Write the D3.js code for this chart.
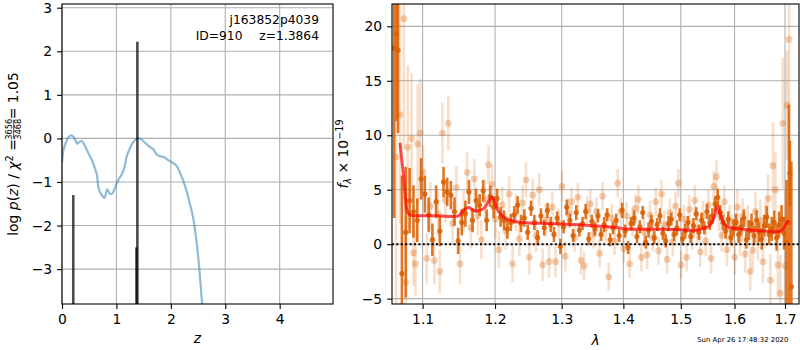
<!DOCTYPE html>
<html>
<head>
<meta charset="utf-8">
<script src="https://cdn.jsdelivr.net/npm/d3@7"></script>
<style>
body { margin: 0; background: #fff; }
svg { font-family: "DejaVu Sans", sans-serif; }
</style>
</head>
<body>
<svg width="800" height="350"></svg>
<script>
// ---- left panel: redshift PDF ----
var zGrid = [0.00,0.03,0.07,0.12,0.165,0.20,0.25,0.28,0.32,0.36,0.40,0.47,0.55,0.64,0.67,0.72,0.78,0.83,0.87,0.91,
  0.96,1.00,1.05,1.10,1.15,1.19,1.25,1.31,1.38,1.43,1.50,1.56,1.62,1.68,1.73,1.80,1.88,1.95,2.02,2.10,
  2.17,2.23,2.29,2.35,2.41,2.46,2.51,2.55,2.58];
var logPz = [-0.55,-0.25,-0.10,0.03,0.07,0.05,-0.05,-0.12,-0.08,-0.06,-0.12,-0.30,-0.50,-0.83,-1.13,-1.28,-1.36,-1.17,-1.25,-1.28,
  -1.18,-1.05,-0.92,-0.82,-0.65,-0.41,-0.22,-0.08,0.00,0.00,-0.07,-0.14,-0.20,-0.25,-0.35,-0.41,-0.43,-0.50,-0.55,-0.62,
  -0.79,-0.98,-1.21,-1.50,-1.82,-2.25,-2.81,-3.40,-3.90];
var spikeZ = [0.207, 1.368, 1.385];
var spikeTop = [-1.30, -2.5, 2.22];
var zTicks = [0, 1, 2, 3, 4];
var pTicks = [-3, -2, -1, 0, 1, 2, 3];

// ---- right panel: spectrum ----
var darkWave = [1.063,1.066,1.068,1.073,1.078,1.083,1.088,1.093,1.098,1.103,
  1.108,1.113,1.118,1.123,1.128,1.133,1.138,1.143,1.148,1.153,
  1.158,1.163,1.168,1.173,1.178,1.183,1.188,1.193,1.198,1.203,
  1.208,1.213,1.218,1.223,1.228,1.233,1.238,1.243,1.248,1.253,
  1.258,1.263,1.268,1.273,1.278,1.283,1.288,1.293,1.298,1.303,
  1.308,1.313,1.318,1.323,1.328,1.333,1.338,1.343,1.348,1.353,
  1.358,1.363,1.368,1.373,1.378,1.383,1.388,1.393,1.398,1.403,
  1.408,1.413,1.418,1.423,1.428,1.433,1.438,1.443,1.448,1.453,
  1.458,1.463,1.468,1.473,1.478,1.483,1.488,1.493,1.498,1.503,
  1.508,1.513,1.518,1.523,1.528,1.533,1.538,1.543,1.548,1.553,
  1.558,1.563,1.568,1.573,1.578,1.583,1.588,1.593,1.598,1.603,
  1.608,1.613,1.618,1.623,1.628,1.633,1.638,1.643,1.648,1.653,
  1.658,1.663,1.668,1.673,1.678,1.683,1.688,1.693,1.698,1.703,
  1.708,1.710,1.713];
var darkFlux = [18.0,19.3,17.8,-2.7,1.1,4.0,3.0,2.2,6.0,4.6,
  2.7,0.4,3.9,1.2,5.7,4.8,4.5,3.0,0.3,2.0,
  2.8,4.8,2.2,4.0,3.6,4.9,2.2,4.4,3.4,4.2,
  2.5,2.2,1.4,2.0,2.7,3.6,1.9,2.4,1.1,3.3,
  2.0,0.6,2.6,1.5,3.1,1.8,0.9,2.4,-0.2,1.6,
  3.4,2.2,0.8,2.9,1.3,1.9,3.0,0.5,2.1,1.4,
  2.6,0.9,1.8,2.7,0.4,1.5,2.2,0.8,3.1,1.2,
  -0.3,1.9,2.4,0.7,1.6,2.9,0.2,1.3,2.1,0.6,
  1.8,2.6,1.0,0.3,1.9,2.3,0.9,1.5,2.7,0.5,
  1.2,2.0,0.7,1.7,2.8,1.1,2.2,1.5,3.0,2.0,
  2.6,3.7,4.3,2.9,2.0,1.2,2.3,0.6,1.5,2.0,
  0.9,1.6,2.4,0.4,1.3,1.9,0.8,2.2,1.1,0.5,
  1.7,2.5,0.9,1.4,2.0,0.6,1.8,2.3,1.0,0.2,
  2.0,6.5,-3.9];
var darkErr = [15.6,8.0,7.6,9.0,6.0,3.0,2.4,2.0,1.9,1.7,
  1.6,1.5,1.5,1.4,1.4,1.3,1.3,1.3,1.2,1.2,
  1.2,1.1,1.1,1.1,1.0,1.0,1.0,1.0,1.0,0.9,
  0.9,0.9,0.9,0.8,0.8,0.8,0.8,0.8,0.7,0.7,
  0.7,0.7,0.7,0.7,0.7,0.7,0.7,0.6,0.7,0.6,
  0.7,0.6,0.6,0.7,0.6,0.6,0.7,0.6,0.6,0.6,
  0.6,0.6,0.7,0.6,0.6,0.6,0.6,0.6,0.7,0.6,
  0.6,0.6,0.7,0.6,0.6,0.6,0.6,0.7,0.6,0.6,
  0.6,0.7,0.6,0.6,0.7,0.6,0.6,0.7,0.6,0.6,
  0.7,0.6,0.6,0.7,0.6,0.7,0.7,0.6,0.7,0.7,
  0.7,0.7,0.8,0.7,0.7,0.7,0.7,0.7,0.8,0.8,
  0.8,0.8,0.8,0.8,0.9,0.9,0.9,0.9,0.9,1.0,
  1.0,1.0,1.0,1.1,1.1,1.2,1.2,1.3,1.5,5.7,
  10.8,3.0,11.5];

var lightWave = [1.0655,1.0705,1.0755,1.0780,1.0805,1.0855,1.0880,1.0905,1.0935,1.0970,
  1.1005,1.1055,1.1105,1.1155,1.1205,1.1230,1.1265,1.1305,1.1345,1.1405,
  1.1455,1.1505,1.1555,1.1605,1.1655,1.1705,1.1755,1.1805,1.1855,1.1905,
  1.1955,1.2005,1.2055,1.2105,1.2155,1.2205,1.2255,1.2305,1.2355,1.2405,
  1.2455,1.2505,1.2555,1.2605,1.2655,1.2705,1.2755,1.2805,1.2855,1.2905,
  1.2955,1.3005,1.3055,1.3105,1.3155,1.3205,1.3255,1.3305,1.3355,1.3405,
  1.3455,1.3505,1.3555,1.3605,1.3655,1.3705,1.3755,1.3805,1.3855,1.3905,
  1.3955,1.4005,1.4055,1.4105,1.4155,1.4205,1.4255,1.4305,1.4355,1.4405,
  1.4455,1.4505,1.4555,1.4605,1.4655,1.4705,1.4755,1.4805,1.4855,1.4905,
  1.4955,1.5005,1.5055,1.5105,1.5155,1.5205,1.5255,1.5305,1.5355,1.5405,
  1.5455,1.5505,1.5555,1.5605,1.5655,1.5705,1.5755,1.5805,1.5855,1.5905,
  1.5955,1.6005,1.6055,1.6105,1.6155,1.6205,1.6255,1.6305,1.6355,1.6405,
  1.6455,1.6505,1.6555,1.6605,1.6655,1.6705,1.6755,1.6805,1.6855,1.6905,
  1.6955,1.7005,1.7043,1.7083];
var lightFlux = [8.0,11.9,20.7,-3.5,8.9,9.7,-0.8,-1.8,9.2,10.2,
  6.6,-1.3,3.5,-1.5,2.8,-2.5,10.2,4.0,11.1,1.9,
  5.2,-1.8,3.0,6.6,1.5,6.0,2.6,0.4,4.1,7.3,
  5.5,2.3,-0.5,3.6,1.2,4.6,-1.8,2.9,0.5,3.8,
  5.9,-1.2,4.5,0.8,5.0,-1.9,2.2,-1.6,3.4,-1.6,
  1.9,5.3,-1.1,2.8,3.9,0.6,4.3,-1.5,-2.0,3.1,
  3.7,0.9,3.0,-0.85,4.4,1.5,-3.0,2.4,0.3,5.6,
  3.0,-0.4,2.6,-1.8,2.0,3.3,4.1,-1.2,1.1,-1.0,
  2.7,0.6,3.9,-0.6,4.6,1.8,-1.4,2.9,0.2,3.5,
  5.6,-1.9,2.3,-1.2,3.2,0.9,4.0,1.4,-0.7,2.6,
  0.3,3.6,-1.3,5.3,6.2,2.7,0.8,3.9,-0.5,2.1,
  1.2,-1.2,3.4,0.5,2.6,-0.9,1.9,-2.5,-0.55,3.0,
  0.4,2.2,-1.6,1.8,4.2,-3.3,7.2,5.0,-1.9,-4.5,
  11.1,-2.0,12.75,18.8];
var lightErr = [14,10,12,6,7.5,6,3.0,3.0,5.5,5.0,
  2.5,2.3,2.2,2.2,2.1,2.0,2.8,2.0,2.5,2.0,
  2.0,1.9,1.9,1.9,1.9,1.8,1.8,1.8,1.8,1.8,
  1.8,1.8,1.7,1.7,1.7,1.7,1.7,1.7,1.6,1.6,
  1.6,1.6,1.5,1.5,1.5,1.5,1.5,1.5,1.4,1.4,
  1.4,1.4,1.4,1.4,1.3,1.3,1.3,1.3,1.3,1.3,
  1.3,1.3,1.3,1.3,1.3,1.3,1.3,1.3,1.3,1.3,
  1.3,1.3,1.3,1.3,1.3,1.3,1.3,1.3,1.3,1.3,
  1.3,1.3,1.3,1.3,1.3,1.3,1.3,1.3,1.3,1.3,
  1.3,1.3,1.3,1.3,1.3,1.4,1.4,1.4,1.4,1.4,
  1.4,1.4,1.4,1.4,1.5,1.5,1.5,1.5,1.5,1.5,
  1.5,1.6,1.6,1.6,1.6,1.7,1.7,1.8,1.8,1.8,
  1.9,1.9,2.0,2.1,2.2,2.4,4.0,3.5,3.0,3.5,
  6.0,7.0,5.0,10.0];

var modelWave = [1.0706,1.0730,1.0752,1.0775,1.0796,1.0820,1.0839,1.10,1.12,1.1486,
  1.1530,1.1570,1.1600,1.1624,1.1650,1.1694,1.1750,1.1800,1.1850,1.1900,
  1.1940,1.1960,1.1985,1.2028,1.2070,1.2123,1.2200,1.2320,1.2500,1.2771,
  1.3000,1.3561,1.3946,1.4000,1.4690,1.5000,1.5169,1.5300,1.5413,1.5537,
  1.5600,1.5640,1.5662,1.5690,1.5720,1.5756,1.5800,1.5850,1.5950,1.6042,
  1.6301,1.6600,1.6897,1.6965,1.7020,1.7070];
var modelFlux = [9.3,7.6,6.3,4.2,3.1,2.8,2.66,2.62,2.6,2.6,
  2.9,3.2,3.33,3.37,3.3,3.1,3.05,3.15,3.35,3.85,
  4.25,4.3,4.0,3.27,2.85,2.5,2.25,2.05,1.95,1.9,
  1.85,1.68,1.5,1.42,1.37,1.32,1.28,1.3,1.45,1.74,
  2.3,3.0,3.42,3.35,2.85,2.36,1.9,1.59,1.47,1.44,
  1.3,1.2,1.19,1.44,1.85,2.2];
var lamTicks = [1.1, 1.2, 1.3, 1.4, 1.5, 1.6, 1.7];
var fluxTicks = [-5, 0, 5, 10, 15, 20];

var svg = d3.select("svg");
var FS = 13.9;
var ORANGE = "#d95f02";

var xz = d3.scaleLinear().domain([0, 4.98]).range([62, 333]);
var yp = d3.scaleLinear().domain([-3.8, 3.085]).range([304, 4]);
var xl = d3.scaleLog().domain([1.0603, 1.7288]).range([392, 799]);
var yf = d3.scaleLinear().domain([-5.49, 22.05]).range([304, 4]);

var defs = svg.append("defs");
function clip(id, x, y) {
  defs.append("clipPath").attr("id", id).append("rect")
    .attr("x", x.range()[0]).attr("y", y.range()[1])
    .attr("width", x.range()[1] - x.range()[0])
    .attr("height", y.range()[0] - y.range()[1]);
}
clip("clipL", xz, yp);
clip("clipR", xl, yf);

function grid(x, y, xt, yt) {
  var g = svg.append("g");
  g.selectAll(".gx").data(xt).enter().append("line")
    .attr("x1", x).attr("x2", x)
    .attr("y1", y.range()[0]).attr("y2", y.range()[1])
    .attr("stroke", "#b0b0b0").attr("stroke-width", 1.1);
  g.selectAll(".gy").data(yt).enter().append("line")
    .attr("y1", y).attr("y2", y)
    .attr("x1", x.range()[0]).attr("x2", x.range()[1])
    .attr("stroke", "#b0b0b0").attr("stroke-width", 1.1);
}

function axes(x, y, xt, yt, xf, yf2) {
  var gx = svg.append("g").attr("transform", "translate(0," + y.range()[0] + ")")
    .call(d3.axisBottom(x).tickValues(xt).tickFormat(xf).tickSize(4.9).tickPadding(4.9).tickSizeOuter(0));
  var gy = svg.append("g").attr("transform", "translate(" + x.range()[0] + ",0)")
    .call(d3.axisLeft(y).tickValues(yt).tickFormat(yf2).tickSize(4.9).tickPadding(4.9).tickSizeOuter(0));
  [gx, gy].forEach(function(g) {
    g.select(".domain").remove();
    g.selectAll("line").attr("stroke", "#000").attr("stroke-width", 1.1);
    g.selectAll("text").attr("font-size", FS + "px").attr("font-family", "DejaVu Sans").attr("fill", "#000");
  });
  svg.append("rect")
    .attr("x", x.range()[0]).attr("y", y.range()[1])
    .attr("width", x.range()[1] - x.range()[0])
    .attr("height", y.range()[0] - y.range()[1])
    .attr("fill", "none").attr("stroke", "#000").attr("stroke-width", 1.1);
}

// ---------- left panel ----------
grid(xz, yp, zTicks, pTicks);
var pl = svg.append("g").attr("clip-path", "url(#clipL)");

pl.append("path")
  .datum(d3.zip(zGrid, logPz))
  .attr("d", d3.line().x(function(d) { return xz(d[0]); }).y(function(d) { return yp(d[1]); }).curve(d3.curveCatmullRom))
  .attr("fill", "none").attr("stroke", "#1f77b4").attr("stroke-opacity", 0.5).attr("stroke-width", 2.2);

pl.selectAll(".spike").data(d3.zip(spikeZ, spikeTop)).enter().append("line")
  .attr("x1", function(d) { return xz(d[0]); }).attr("x2", function(d) { return xz(d[0]); })
  .attr("y1", yp(-3.8)).attr("y2", function(d) { return yp(d[1]); })
  .attr("stroke", "#000").attr("stroke-opacity", 0.7).attr("stroke-width", 2.6);

axes(xz, yp, zTicks, pTicks, d3.format("d"), d3.format("d"));

svg.append("text").attr("x", 319).attr("y", 24).attr("text-anchor", "end")
  .attr("font-size", "12.3px").text("j163852p4039");
svg.append("text").attr("x", 242.5).attr("y", 39.5).attr("text-anchor", "end")
  .attr("font-size", "12.3px").text("ID=910");
svg.append("text").attr("x", 319).attr("y", 39.5).attr("text-anchor", "end")
  .attr("font-size", "12.3px").text("z=1.3864");

svg.append("text").attr("x", 197.5).attr("y", 343).attr("text-anchor", "middle")
  .attr("font-size", FS + "px").attr("font-style", "italic").text("z");

// left y label with stacked fraction
var yl = svg.append("g").attr("transform", "translate(18,154) rotate(-90)");
var inner = yl.append("g");
var t1 = inner.append("text").attr("x", 0).attr("y", 0).attr("font-size", FS + "px");
t1.append("tspan").text("log ");
t1.append("tspan").attr("font-style", "italic").text("p");
t1.append("tspan").text("(");
t1.append("tspan").attr("font-style", "italic").text("z");
t1.append("tspan").text(") / ");
t1.append("tspan").attr("font-style", "italic").text("\u03c7");
t1.append("tspan").attr("dy", -5.5).attr("font-size", "9.7px").text("2");
t1.append("tspan").attr("dy", 5.5).text(" = ");
var w1 = t1.node().getComputedTextLength();
var fracW = 19, axisY = -4.3;
inner.append("text").attr("x", w1 + fracW / 2 + 0.5).attr("y", axisY - 1.6)
  .attr("text-anchor", "middle").attr("font-size", "8.3px").text("3656");
inner.append("text").attr("x", w1 + fracW / 2 + 0.5).attr("y", axisY + 1.6 + 6.1)
  .attr("text-anchor", "middle").attr("font-size", "8.3px").text("3468");
inner.append("line").attr("x1", w1 + 0.5).attr("x2", w1 + fracW + 0.5)
  .attr("y1", axisY).attr("y2", axisY).attr("stroke", "#000").attr("stroke-width", 0.7);
var t3 = inner.append("text").attr("x", w1 + fracW + 1).attr("y", 0)
  .attr("font-size", FS + "px").text(" = 1.05");
var total = w1 + fracW + 1 + t3.node().getComputedTextLength();
inner.attr("transform", "translate(" + (-total / 2) + ",0)");

// ---------- right panel ----------
grid(xl, yf, lamTicks, fluxTicks);
var pr = svg.append("g").attr("clip-path", "url(#clipR)");

function errSeries(g, wave, flux, err, barOp, dotOp, r, w) {
  var data = d3.zip(wave, flux, err);
  g.selectAll(null).data(data).enter().append("line")
    .attr("x1", function(d) { return xl(d[0]); }).attr("x2", function(d) { return xl(d[0]); })
    .attr("y1", function(d) { return yf(d[1] - d[2]); }).attr("y2", function(d) { return yf(d[1] + d[2]); })
    .attr("stroke", ORANGE).attr("stroke-opacity", barOp).attr("stroke-width", w);
  g.selectAll(null).data(data).enter().append("circle")
    .attr("cx", function(d) { return xl(d[0]); }).attr("cy", function(d) { return yf(d[1]); })
    .attr("r", r).attr("fill", ORANGE).attr("fill-opacity", dotOp);
}

errSeries(pr.append("g"), lightWave, lightFlux, lightErr, 0.2, 0.3, 3.4, 2.6);
errSeries(pr.append("g"), darkWave, darkFlux, darkErr, 0.85, 0.85, 2.6, 2.6);

pr.append("path")
  .datum(d3.zip(modelWave, modelFlux))
  .attr("d", d3.line().x(function(d) { return xl(d[0]); }).y(function(d) { return yf(d[1]); }).curve(d3.curveCatmullRom))
  .attr("fill", "none").attr("stroke", "red").attr("stroke-opacity", 0.7).attr("stroke-width", 3);

pr.append("line").attr("x1", xl.range()[0]).attr("x2", xl.range()[1])
  .attr("y1", yf(0)).attr("y2", yf(0))
  .attr("stroke", "#000").attr("stroke-width", 2).attr("stroke-dasharray", "2,2.4");

axes(xl, yf, lamTicks, fluxTicks, d3.format(".1f"), d3.format("d"));

svg.append("text").attr("x", 595.5).attr("y", 345).attr("text-anchor", "middle")
  .attr("font-size", FS + "px").attr("font-style", "italic").text("\u03bb");

var fl = svg.append("text").attr("transform", "translate(348,154) rotate(-90)")
  .attr("text-anchor", "middle").attr("font-size", FS + "px");
fl.append("tspan").attr("font-style", "italic").text("f");
fl.append("tspan").attr("font-style", "italic").attr("font-size", "9.7px").attr("dy", 3).text("\u03bb");
fl.append("tspan").attr("dy", -3).text(" \u00d7 10");
fl.append("tspan").attr("font-size", "9.7px").attr("dy", -5.5).text("\u221219");

svg.append("text").attr("x", 788.3).attr("y", 341.5).attr("text-anchor", "end")
  .attr("font-size", "6.9px").text("Sun Apr 26 17:48:32 2020");
</script>
</body>
</html>
